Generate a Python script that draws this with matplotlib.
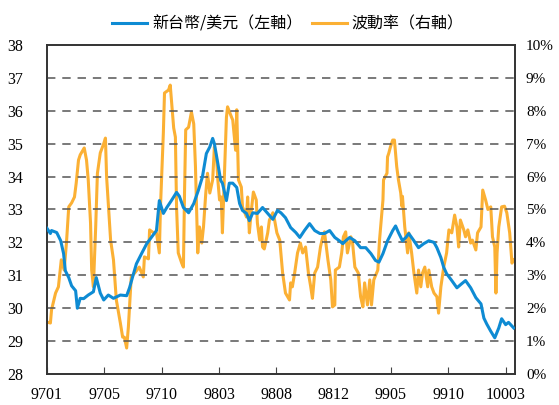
import numpy as np
import matplotlib
matplotlib.use("Agg")
import matplotlib.pyplot as plt
from matplotlib.ticker import FuncFormatter

plt.rcParams['font.family'] = ['Liberation Serif', 'DejaVu Serif']

# trading-day index, ticks every 100 days
tick_pos = [0, 100, 200, 300, 400, 500, 600, 700, 800]
tick_labels = ['9701', '9705', '9710', '9803', '9808', '9812', '9905', '9910', '10003']

# NTD/USD (left axis)
ntd_day = [0, 6, 8, 17, 24, 29, 32, 38, 43, 50, 53, 58, 64, 72, 81, 86, 93, 99,
           107, 116, 128, 139, 144, 151, 156, 165, 174, 182, 191, 196, 203, 209,
           217, 226, 231, 238, 247, 256, 264, 271, 278, 284, 289, 292, 298, 303,
           306, 313, 318, 324, 331, 336, 341, 348, 353, 359, 367, 376, 385, 394,
           402, 408, 416, 425, 434, 441, 449, 458, 467, 476, 484, 493, 502, 510,
           516, 521, 528, 537, 547, 556, 565, 573, 579, 586, 594, 603, 608, 613,
           620, 626, 631, 640, 648, 657, 666, 675, 680, 687, 692, 697, 706, 715,
           723, 730, 739, 748, 757, 762, 767, 774, 781, 788, 793, 800, 805, 814]
ntd = [32.43, 32.27, 32.36, 32.3, 32.05, 31.66, 31.14, 30.93, 30.68, 30.53, 30.0,
       30.3, 30.29, 30.4, 30.5, 30.93, 30.46, 30.25, 30.4, 30.3, 30.4, 30.38,
       30.62, 31.05, 31.35, 31.66, 31.96, 32.15, 32.36, 33.27, 32.88, 33.06,
       33.27, 33.52, 33.4, 33.06, 32.9, 33.18, 33.58, 33.98, 34.7, 34.9, 35.16,
       35.0, 34.4, 33.88, 33.8, 33.27, 33.8, 33.8, 33.67, 33.18, 32.97, 32.88,
       32.66, 32.9, 32.88, 33.06, 32.88, 32.7, 32.97, 32.9, 32.75, 32.45, 32.3,
       32.15, 32.36, 32.57, 32.36, 32.27, 32.27, 32.36, 32.15, 32.05, 31.96,
       32.05, 32.15, 32.05, 31.84, 31.84, 31.66, 31.45, 31.4, 31.66, 32.05,
       32.36, 32.5, 32.3, 32.05, 32.15, 32.27, 32.05, 31.84, 31.96, 32.05, 32.0,
       31.84, 31.54, 31.24, 31.05, 30.84, 30.62, 30.74, 30.84, 30.62, 30.32,
       30.13, 29.7, 29.52, 29.3, 29.1, 29.4, 29.68, 29.5, 29.57, 29.4]

# volatility in % (right axis)
vol_day = [0, 6, 8, 15, 20, 25, 30, 34, 38, 43, 48, 51, 55, 58, 65, 69, 72, 76,
           78, 81, 85, 88, 93, 99, 102, 104, 111, 116, 121, 128, 132, 135, 139,
           142, 147, 153, 161, 168, 170, 177, 179, 186, 191, 196, 198, 203, 205,
           212, 215, 221, 224, 226, 229, 235, 238, 240, 242, 247, 252, 256, 259,
           263, 266, 270, 273, 277, 280, 284, 289, 292, 296, 298, 301, 304, 306,
           308, 313, 315, 322, 324, 329, 331, 334, 339, 341, 348, 350, 353, 356,
           360, 365, 367, 371, 374, 376, 379, 385, 388, 394, 397, 401, 406, 411,
           416, 423, 425, 428, 432, 437, 442, 446, 451, 456, 460, 463, 467, 472,
           477, 481, 484, 490, 495, 498, 502, 503, 510, 514, 517, 521, 524, 530,
           533, 537, 543, 547, 551, 554, 559, 563, 566, 570, 577, 580, 586, 587,
           593, 594, 596, 599, 603, 606, 610, 613, 617, 619, 620, 624, 629, 631,
           636, 640, 645, 648, 652, 655, 659, 664, 666, 671, 675, 680, 683, 687,
           692, 697, 701, 706, 711, 715, 718, 721, 727, 730, 734, 739, 742, 748,
           751, 757, 760, 765, 769, 774, 777, 781, 783, 785, 788, 793, 798, 802,
           807, 811, 814]
vol = [1.58, 1.55, 1.95, 2.46, 2.65, 3.47, 3.16, 3.98, 5.08, 5.2, 5.38, 5.8, 6.5,
       6.66, 6.87, 6.5, 5.9, 4.59, 3.16, 2.65, 4.47, 6.1, 6.72, 7.0, 7.17, 6.0,
       4.07, 3.47, 2.25, 1.55, 1.12, 1.12, 0.79, 1.43, 2.95, 3.07, 3.25, 2.95,
       3.56, 3.5, 4.38, 4.29, 4.29, 3.68, 5.08, 7.33, 8.54, 8.63, 8.78, 7.48,
       7.2, 5.08, 3.68, 3.37, 3.25, 5.59, 7.42, 7.5, 7.96, 7.6, 6.3, 3.68, 4.47,
       3.98, 4.47, 5.5, 6.1, 5.5, 5.9, 6.9, 6.5, 5.9, 5.29, 5.38, 4.29, 5.29,
       7.8, 8.12, 7.8, 7.72, 6.8, 8.03, 5.9, 5.68, 5.08, 4.77, 5.38, 4.29, 4.9,
       5.53, 5.29, 4.59, 4.07, 4.47, 3.86, 3.8, 4.29, 4.68, 4.9, 4.68, 4.29,
       4.07, 3.07, 2.46, 2.25, 2.77, 2.65, 3.07, 3.68, 3.98, 3.68, 3.86, 3.07,
       2.65, 2.3, 3.07, 3.25, 3.86, 4.17, 4.32, 3.47, 2.86, 2.04, 2.1, 3.16,
       3.25, 3.68, 4.17, 4.32, 3.68, 4.17, 3.98, 3.25, 3.07, 2.35, 2.04, 2.77,
       2.1, 2.86, 2.1, 2.86, 3.16, 4.07, 5.29, 5.9, 6.1, 6.6, 6.7, 6.9, 7.11,
       7.11, 6.3, 5.9, 5.5, 5.1, 5.4, 4.47, 3.68, 4.29, 3.68, 3.07, 2.46, 3.16,
       2.65, 3.07, 3.25, 2.65, 3.16, 2.65, 2.46, 2.35, 1.85, 2.65, 3.25, 3.68,
       4.38, 4.29, 4.83, 4.47, 3.86, 4.68, 4.38, 4.17, 4.38, 3.98, 4.07, 3.77,
       4.29, 4.47, 5.59, 5.29, 5.0, 5.08, 4.17, 3.86, 2.46, 3.68, 4.47, 5.08,
       5.1, 4.9, 4.29, 3.37, 3.47]

blue = '#0e8bd3'
orange = '#fbb034'

fig = plt.figure(figsize=(5.59, 4.05), dpi=100)
ax = fig.add_axes([0.084, 0.0765, 0.837, 0.8125])
ax2 = ax.twinx()

ax.set_ylim(28, 38)
ax.set_yticks(range(28, 39))
ax.set_xlim(0, 816)
ax.set_xticks(tick_pos)
ax.set_xticklabels(tick_labels)
for y in range(29, 38):
    ax.axhline(y, color='#555555', lw=1.1, dashes=(5.5, 4.5), zorder=0)

l1, = ax.plot(ntd_day, ntd, color=blue, lw=2.2, zorder=3)
ax.set_zorder(ax2.get_zorder() + 1)
ax.patch.set_visible(False)
l2, = ax2.plot(vol_day, np.array(vol) / 100, color=orange, lw=2.2)
ax2.set_ylim(0, 0.10)
ax2.set_yticks(np.arange(0, 0.101, 0.01))
ax2.yaxis.set_major_formatter(FuncFormatter(lambda v, p: f'{v*100:.0f}%'))

ax.tick_params(axis='x', direction='in', length=5, width=0.8, color='#444444',
               pad=9, labelsize=11.5)
ax.tick_params(axis='y', length=0, pad=17, labelsize=11.5)
ax2.tick_params(axis='y', length=0, pad=8, labelsize=11)
for a in (ax, ax2):
    for s in a.spines.values():
        s.set_color('#333333')
        s.set_linewidth(1.2)

fig.legend([l1, l2], ['新台幣/美元（左軸）', '波動率（右軸）'],
           loc='center', bbox_to_anchor=(0.515, 0.94), ncol=2, frameon=False,
           handlelength=2.2, columnspacing=0.6, handletextpad=0.3,
           prop={'family': ['Noto Sans CJK TC', 'DejaVu Sans'], 'size': 11.5})

fig.savefig('out.png', dpi=100)
